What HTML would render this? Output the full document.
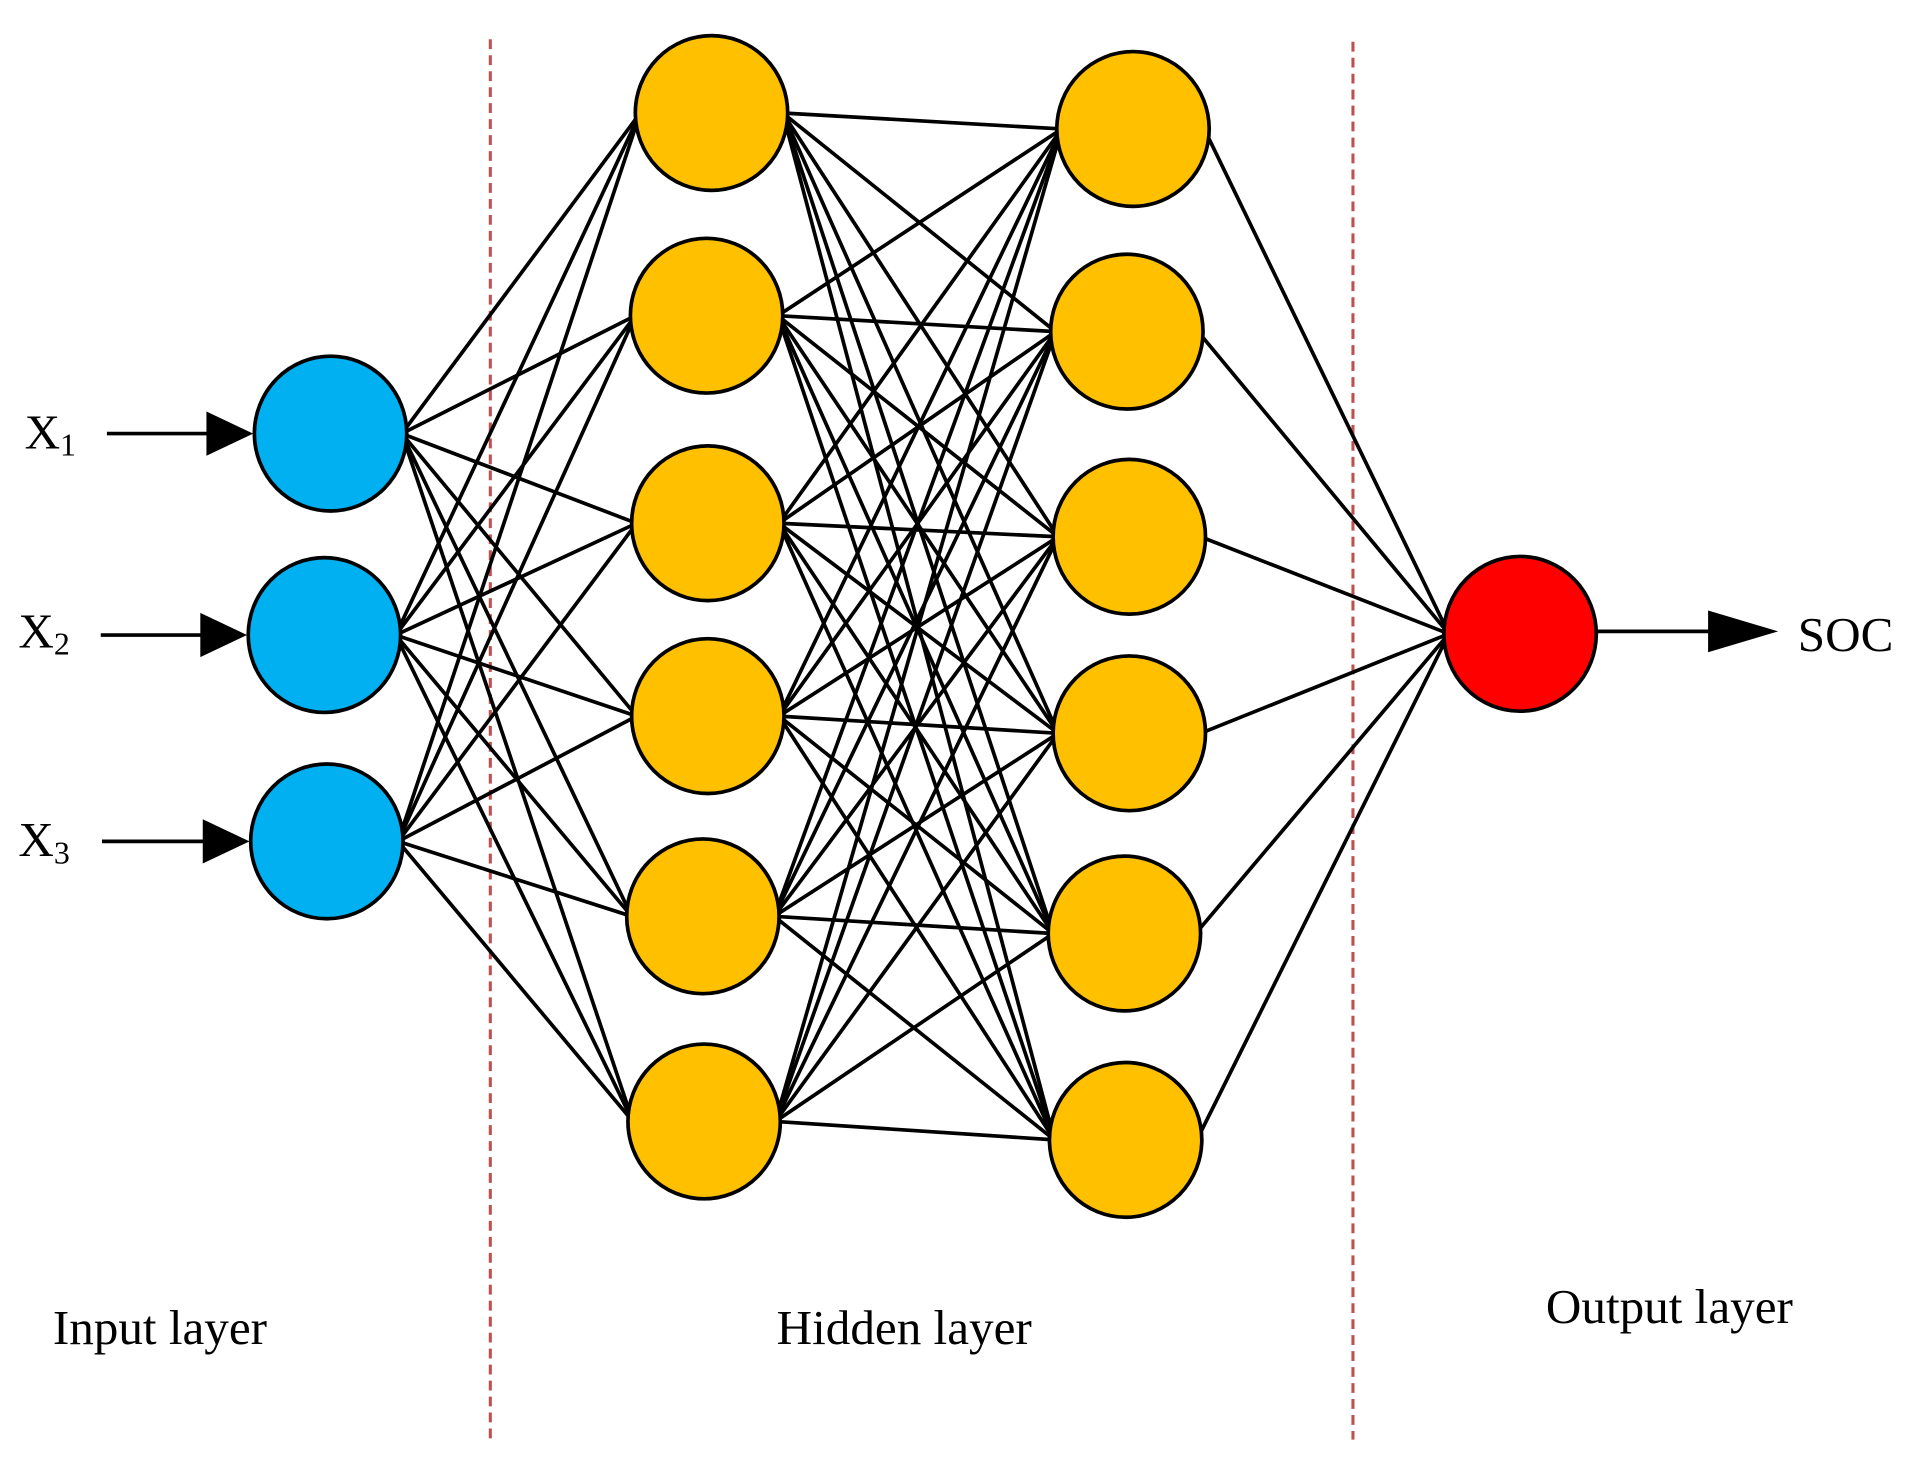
<!DOCTYPE html>
<html><head><style>html,body{margin:0;padding:0;background:#fff}svg{display:block}</style></head>
<body>
<svg width="1917" height="1458" viewBox="0 0 1560 1187" preserveAspectRatio="none" xmlns="http://www.w3.org/2000/svg">
<g stroke="#c0504d" stroke-width="2.5" stroke-dasharray="8,5">
<line x1="399" y1="32" x2="399" y2="1172"/>
<line x1="1101" y1="34" x2="1101" y2="1172"/>
</g>
<g id="lines" stroke="#000" stroke-width="3"></g>
<g stroke="#000" stroke-width="3">
<line x1="87" y1="353" x2="180" y2="353"/>
<line x1="82" y1="517" x2="175" y2="517"/>
<line x1="83" y1="685" x2="177" y2="685"/>
<line x1="1299" y1="514" x2="1395" y2="514"/>
</g>
<g fill="#000">
<polygon points="168,335 206,353 168,371"/>
<polygon points="163,499 201,517 163,535"/>
<polygon points="165,667 203,685 165,703"/>
<polygon points="1390,497 1447,514 1390,531"/>
</g>
<g id="nodes" stroke="#000" stroke-width="3"></g>
<g font-family="Liberation Serif, serif" font-size="40" fill="#000">
<text x="20" y="365">X<tspan font-size="26" dy="6">1</tspan></text>
<text x="15" y="527">X<tspan font-size="26" dy="6">2</tspan></text>
<text x="15" y="697">X<tspan font-size="26" dy="6">3</tspan></text>
<text x="1463" y="530">SOC</text>
<text x="43" y="1094">Input layer</text>
<text x="632" y="1094">Hidden layer</text>
<text x="1258" y="1077">Output layer</text>
</g>
<script>
var I=[[269,353],[264,517],[266,685]];
var A=[[579,92],[575,257],[576,426],[576,583],[572,746],[573,913]];
var B=[[922,105],[917,270],[919,437],[919,597],[915,760],[916,928]];
var O=[[1237,516]];
var ns="http://www.w3.org/2000/svg",L=document.getElementById("lines"),N=document.getElementById("nodes");
function con(P,Q){P.forEach(function(p){Q.forEach(function(q){var l=document.createElementNS(ns,"line");l.setAttribute("x1",p[0]+58);l.setAttribute("y1",p[1]);l.setAttribute("x2",q[0]-58);l.setAttribute("y2",q[1]);L.appendChild(l);});});}
con(I,A);con(A,B);con(B,O);
function nd(P,c){P.forEach(function(p){var e=document.createElementNS(ns,"ellipse");e.setAttribute("cx",p[0]);e.setAttribute("cy",p[1]);e.setAttribute("rx",62);e.setAttribute("ry",63);e.setAttribute("fill",c);N.appendChild(e);});}
nd(I,"#00b0f0");nd(A,"#ffc000");nd(B,"#ffc000");nd(O,"#ff0000");
</script>
</svg>
</body></html>
